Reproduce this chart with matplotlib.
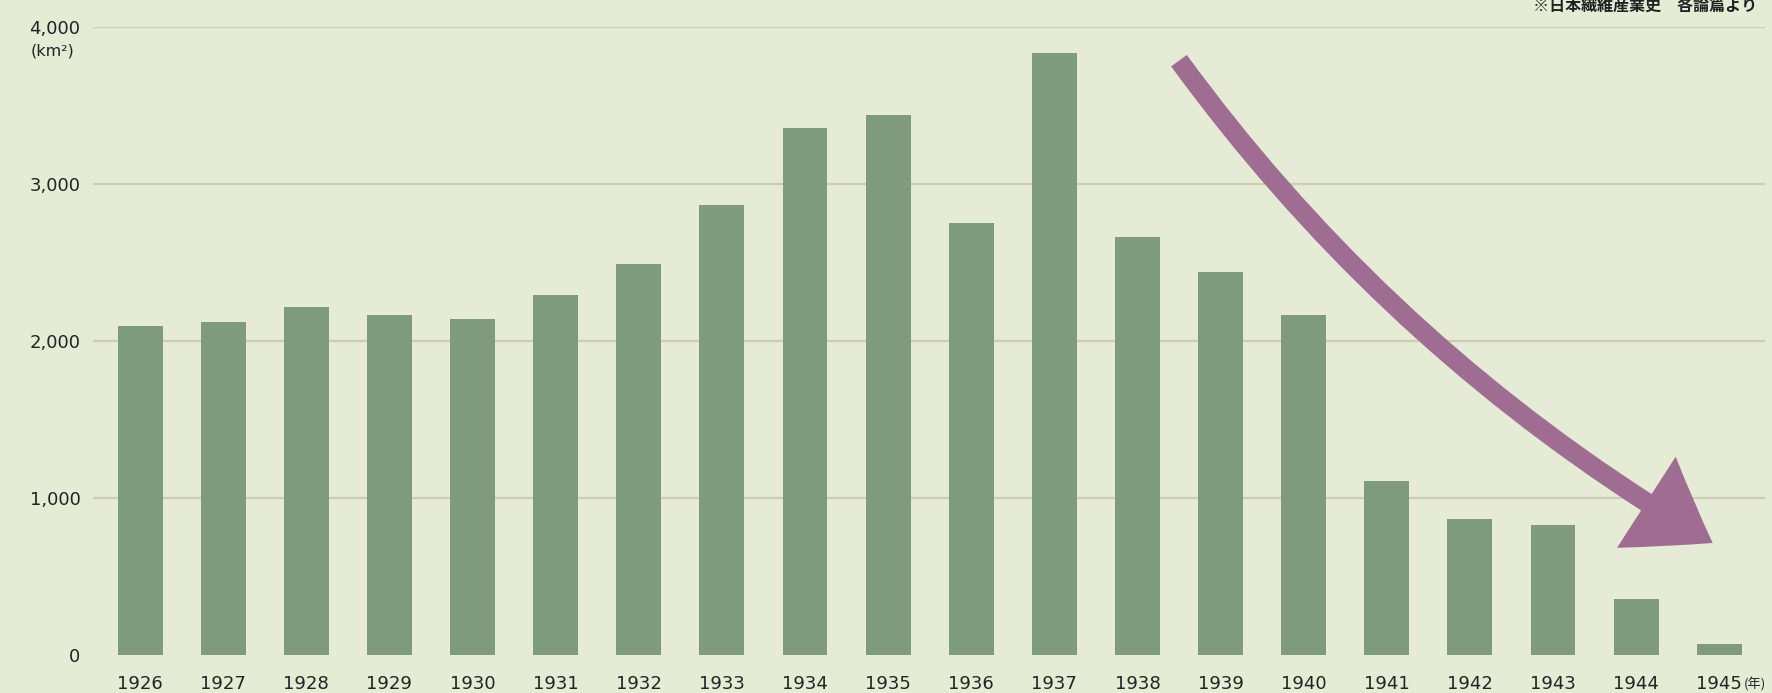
import matplotlib.pyplot as plt
from matplotlib.patches import FancyArrowPatch

# 作付面積の推移 (km²)
years = [str(y) for y in range(1926, 1946)]
area = [2095, 2120, 2215, 2165, 2140, 2295, 2490, 2865, 3355, 3440,
        2750, 3835, 2662, 2437, 2163, 1110, 865, 830, 360, 70]
yticks = [0, 1000, 2000, 3000, 4000]
ytick_labels = ['0', '1,000', '2,000', '3,000', '4,000']

BG = '#e5ebd5'
BAR = '#7e9c7c'
ARROW = '#9f6c92'
GRID = '#cdcdb6'
TXT = '#232323'

plt.rcParams['font.family'] = ['DejaVu Sans', 'Noto Sans CJK JP']

fig = plt.figure(figsize=(17.72, 6.93), dpi=100, facecolor=BG)
ax = fig.add_axes([0.0525, 0.0548, 0.9435, 0.9062], facecolor=BG)

x = list(range(len(years)))
ax.bar(x, area, width=0.54, color=BAR, zorder=2)

ax.set_xlim(-0.566, 19.55)
ax.set_ylim(0, 4000)
ax.set_yticks(yticks)
ax.set_yticklabels(ytick_labels)
ax.set_xticks(x)
ax.set_xticklabels(years)
# 0 の線は引かない
for y in yticks[1:]:
    ax.axhline(y, color=GRID, lw=1.6, zorder=1)

ax.tick_params(axis='both', length=0, labelsize=13, labelcolor=TXT)
ax.tick_params(axis='x', pad=14.5)
ax.tick_params(axis='y', pad=9)
for s in ax.spines.values():
    s.set_visible(False)

# 1945 の後ろに (年)
ax.annotate('(年)', xy=(19, 0), xycoords=('data', 'axes fraction'),
            xytext=(17.5, -16.5), textcoords='offset points', ha='left', va='top',
            fontsize=9.5, color=TXT, family=['Noto Sans CJK JP'])

fig.text(52 / 1772, 1 - 51 / 693, '(km²)', ha='center', va='center',
         fontsize=11.5, color=TXT, family=['DejaVu Sans'])
fig.text(1757 / 1772, 1 - 6 / 693, '※日本繊維産業史　各論篇より', ha='right',
         va='center', fontsize=11.5, fontweight='bold', color='#222222',
         family=['Noto Sans CJK JP', 'DejaVu Sans'])

# 減少を示す矢印
arr = FancyArrowPatch((12.48, 3800), (18.95, 705),
                      connectionstyle='arc3,rad=0.105',
                      arrowstyle='simple,head_width=78,head_length=56,tail_width=14',
                      mutation_scale=1, color=ARROW, zorder=3, lw=0)
ax.add_patch(arr)

fig.savefig('out.png', dpi=100, facecolor=BG)
